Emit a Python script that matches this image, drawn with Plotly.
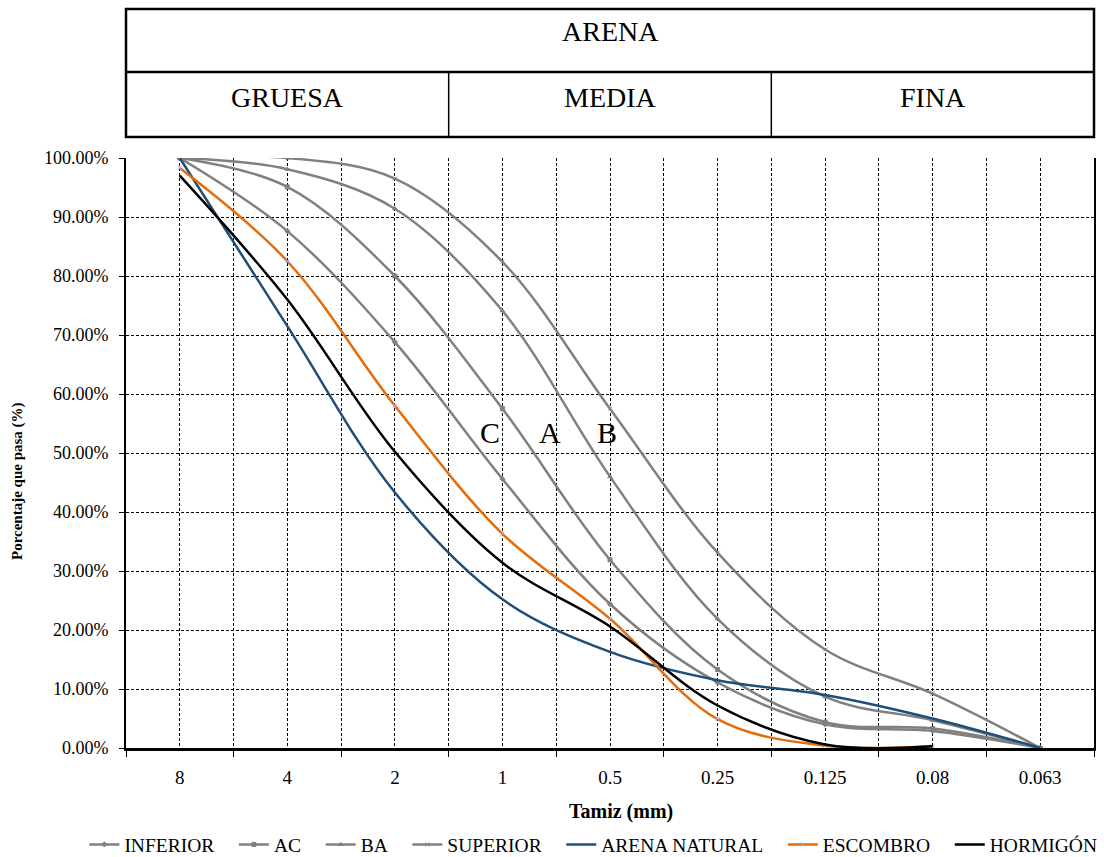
import plotly.graph_objects as go

# Sieve openings (mm), plotted as ordered categories
sieves = ["8", "4", "2", "1", "0.5", "0.25", "0.125", "0.08", "0.063"]

# Grading envelope curves (% passing)
inferior = [100.0, 87.6, 68.8, 45.6, 24.4, 11.1, 4.0, 2.9, 0.0]
ac = [100.0, 95.1, 80.0, 57.5, 31.9, 13.3, 4.4, 3.3, 0.0]
ba = [100.0, 98.1, 91.4, 74.1, 46.0, 21.9, 8.7, 4.7, 0.0]
superior = [100.0, 100.0, 96.5, 82.4, 57.5, 33.1, 16.7, 9.2, 0.0]

# Tested sands (% passing)
arena_natural = [100.0, 71.5, 43.3, 25.2, 16.3, 11.5, 9.0, 5.0, 0.0]
escombro = [98.3, 82.5, 58.0, 36.3, 21.9, 4.9, 0.4, 0.3]
hormigon = [97.0, 76.0, 50.2, 31.4, 20.6, 7.2, 0.6, 0.3]

# Zone labels between the envelope curves
zone_labels = ["C", "A", "B"]
zone_x = [2.88, 3.44, 3.97]
zone_y = [53.4, 53.4, 53.4]

# Header table: fraction names
header_top = "ARENA"
header_parts = ["GRUESA", "MEDIA", "FINA"]
header_centers = ["4", "0.5", "0.08"]

serif = "Liberation Serif, Times New Roman, Tinos, DejaVu Serif, serif"
gray = "#808080"
pad = "\u00a0" * 3  # extra room between legend entries

fig = go.Figure()

envelopes = [
    ("INFERIOR", inferior, "diamond"),
    ("AC", ac, "square"),
    ("BA", ba, "triangle-up"),
    ("SUPERIOR", superior, "x-thin"),
]
for name, vals, sym in envelopes:
    fig.add_trace(go.Scatter(
        x=sieves, y=vals, name=name + pad, mode="lines+markers",
        line=dict(color=gray, width=2.5, shape="spline", smoothing=1.0),
        marker=dict(symbol=sym, size=4, color=gray,
                    line=dict(color=gray, width=1)),
    ))

fig.add_trace(go.Scatter(
    x=sieves, y=arena_natural, name="ARENA NATURAL" + pad, mode="lines",
    line=dict(color="#1F4E79", width=2.5, shape="spline", smoothing=1.0),
))
fig.add_trace(go.Scatter(
    x=sieves[:len(escombro)], y=escombro, name="ESCOMBRO" + pad,
    mode="lines+markers",
    line=dict(color="#E46C0A", width=2.5, shape="spline", smoothing=1.0),
    marker=dict(symbol="x-thin", size=4, color="#A0A0FF",
                line=dict(color="#A0A0FF", width=1)),
))
fig.add_trace(go.Scatter(
    x=sieves[:len(hormigon)], y=hormigon, name="HORMIGÓN", mode="lines",
    line=dict(color="#000000", width=2.5, shape="spline", smoothing=1.0),
))

# Helper trace so the overlaid axis (centre gridlines) is drawn
fig.add_trace(go.Scatter(
    x=sieves, y=[None] * len(sieves), xaxis="x2", mode="lines",
    showlegend=False, hoverinfo="skip",
))

grid_style = dict(showgrid=True, gridcolor="#000000", gridwidth=1, griddash="3px,2px")

fig.update_layout(
    width=1104, height=857,
    margin=dict(l=126, r=10, t=158, b=109, autoexpand=False),
    paper_bgcolor="white", plot_bgcolor="white",
    font=dict(family=serif, color="#000000"),
    showlegend=True,
    legend=dict(
        orientation="h", x=-0.043, xanchor="left", y=-0.164, yanchor="middle",
        font=dict(family=serif, size=19.5, color="#000000"),
        itemwidth=30, tracegroupgap=0, bgcolor="rgba(0,0,0,0)",
    ),
    xaxis=dict(
        type="category", categoryorder="array", categoryarray=sieves,
        range=[-0.5, 8.5], tickson="boundaries",
        ticks="outside", ticklen=6, tickcolor="#000000",
        showline=True, linecolor="#000000", linewidth=2.5,
        tickfont=dict(family=serif, size=19), ticklabelstandoff=10,
        zeroline=False, **grid_style,
    ),
    xaxis2=dict(
        type="category", categoryorder="array", categoryarray=sieves,
        overlaying="x", anchor="y", range=[-0.5, 8.5],
        showticklabels=False, ticks="", showline=False, zeroline=False,
        **grid_style,
    ),
    yaxis=dict(
        range=[0, 100], dtick=10, tickformat=".2f", ticksuffix="%",
        ticks="outside", ticklen=5, tickcolor="#000000",
        showline=True, linecolor="#000000", linewidth=2, mirror=True,
        tickfont=dict(family=serif, size=18), ticklabelstandoff=7,
        zeroline=False, **grid_style,
    ),
)

# Axis titles
fig.add_annotation(
    text="<b>Porcentaje que pasa (%)</b>", xref="paper", yref="paper",
    x=-0.1126, y=0.4525, textangle=-90, showarrow=False,
    font=dict(family=serif, size=15), xanchor="center", yanchor="middle",
)
fig.add_annotation(
    text="<b>Tamiz (mm)</b>", xref="paper", yref="paper",
    x=0.511, y=-0.1068, showarrow=False,
    font=dict(family=serif, size=20), xanchor="center", yanchor="middle",
)

# Zone letters
for lbl, zx, zy in zip(zone_labels, zone_x, zone_y):
    fig.add_annotation(
        text=lbl, x=zx, y=zy, xref="x", yref="y", showarrow=False,
        font=dict(family=serif, size=30), xanchor="center", yanchor="middle",
    )

# Header table above the plot
y_bottom, y_mid, y_top = 1.0356, 1.1458, 1.2525
border = dict(color="#000000", width=2.5)
fig.add_shape(type="rect", xref="paper", yref="paper",
              x0=0, x1=1, y0=y_bottom, y1=y_top, line=border)
fig.add_shape(type="line", xref="paper", yref="paper",
              x0=0, x1=1, y0=y_mid, y1=y_mid, line=border)
for xb in [2.5, 5.5]:
    fig.add_shape(type="line", xref="x", yref="paper",
                  x0=xb, x1=xb, y0=y_bottom, y1=y_mid,
                  line=dict(color="#000000", width=1.5))

fig.add_annotation(
    text=header_top, xref="x", yref="paper", x=sieves.index("0.5"), y=1.2145,
    showarrow=False, font=dict(family=serif, size=28),
    xanchor="center", yanchor="middle",
)
for part, cx in zip(header_parts, header_centers):
    fig.add_annotation(
        text=part, xref="x", yref="paper", x=sieves.index(cx), y=1.103,
        showarrow=False, font=dict(family=serif, size=28),
        xanchor="center", yanchor="middle",
    )

fig.write_html("out.html")
